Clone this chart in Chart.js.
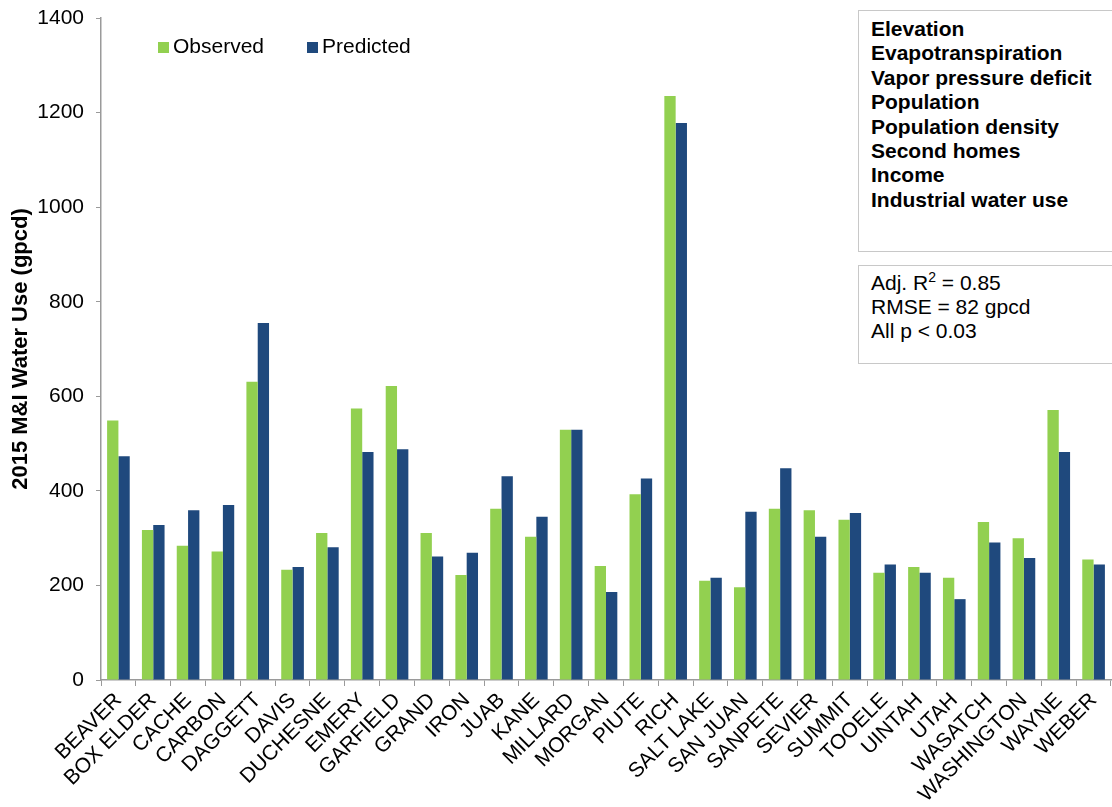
<!DOCTYPE html>
<html>
<head>
<meta charset="utf-8">
<script src="https://cdn.jsdelivr.net/npm/chart.js@4"></script>
<style>
    body { margin: 0; background: #fff; }
    #wrap { position: relative; width: 1112px; height: 807px; font-family: "Liberation Sans", Arial, sans-serif; }
    #legend { position: absolute; left: 158px; top: 34px; display: flex; gap: 43px; font-size: 21px; color: #000; }
    #legend .item { display: flex; align-items: center; }
    #legend .box { width: 11px; height: 11px; margin-right: 4px; margin-top: 3px; }
    .note { position: absolute; left: 858px; width: 260px; border: 1.5px solid #c8c8c8; box-sizing: border-box;
            padding-left: 12px; font-size: 21px; line-height: 24.4px; color: #000; background: #fff; }
    #vars { top: 10px; height: 242px; padding-top: 6px; font-weight: bold; }
    #stats { top: 265px; height: 99px; padding-top: 5px; line-height: 24px; }
    #stats sup { font-size: 14px; line-height: 0; vertical-align: 8px; }
</style>
</head>
<body>
<div id="wrap">
    <canvas id="chart-water" width="1112" height="807"></canvas>
    <div id="legend"></div>
    <div class="note" id="vars"></div>
    <div class="note" id="stats">Adj. R<sup>2</sup> = 0.85<br>RMSE = 82 gpcd<br>All p &lt; 0.03</div>
</div>
<script>
const counties = ["BEAVER", "BOX ELDER", "CACHE", "CARBON", "DAGGETT", "DAVIS", "DUCHESNE", "EMERY",
    "GARFIELD", "GRAND", "IRON", "JUAB", "KANE", "MILLARD", "MORGAN", "PIUTE", "RICH", "SALT LAKE",
    "SAN JUAN", "SANPETE", "SEVIER", "SUMMIT", "TOOELE", "UINTAH", "UTAH", "WASATCH", "WASHINGTON",
    "WAYNE", "WEBER"];

const observed = [549, 317, 284, 272, 631, 233, 311, 574, 622, 311, 222, 362, 303, 529, 241, 393, 1235,
    210, 196, 362, 359, 339, 227, 239, 216, 334, 300, 571, 255];

const predicted = [473, 328, 359, 370, 755, 239, 281, 482, 488, 261, 269, 431, 345, 529, 186, 426, 1178,
    216, 356, 448, 303, 353, 244, 227, 171, 291, 258, 482, 244];

const variables = ["Elevation", "Evapotranspiration", "Vapor pressure deficit", "Population",
    "Population density", "Second homes", "Income", "Industrial water use"];

const series = [
    { label: "Observed", color: "#92D050", data: observed },
    { label: "Predicted", color: "#1F497D", data: predicted },
];

const font = "'Liberation Sans', Arial, sans-serif";
const axisGrey = "#9a9a9a";

function renderChart() {
    const chart = new Chart('chart-water', {
        type: 'bar',
        data: {
            labels: counties,
            datasets: series.map(s => ({
                label: s.label,
                data: s.data,
                backgroundColor: s.color,
                categoryPercentage: 0.65,
                barPercentage: 1.0
            }))
        },
        options: {
            responsive: false,
            animation: false,
            layout: { padding: { top: 18, right: 1, left: 4, bottom: 0 } },
            plugins: {
                legend: { display: false },
                tooltip: { enabled: false }
            },
            scales: {
                x: {
                    grid: { drawOnChartArea: false, color: axisGrey, tickLength: 6, offset: true },
                    border: { color: axisGrey, width: 1.5 },
                    ticks: {
                        autoSkip: false, maxRotation: 45, minRotation: 45, padding: 2,
                        color: "#000", font: { family: font, size: 21 }
                    },
                    afterFit: scale => { scale.height = 127; scale.paddingLeft = 0; scale.paddingRight = 0; }
                },
                y: {
                    min: 0, max: 1400,
                    grid: { drawOnChartArea: false, color: axisGrey, tickLength: 5 },
                    border: { color: axisGrey, width: 1.5 },
                    ticks: {
                        stepSize: 200, padding: 12, color: "#000", font: { family: font, size: 21 },
                        callback: v => String(v)
                    },
                    title: {
                        display: true, text: "2015 M&I Water Use (gpcd)", color: "#000",
                        font: { family: font, size: 22, weight: 'bold' }, padding: { top: 4, bottom: 4 }
                    },
                    afterFit: scale => { scale.width = 97; scale.paddingTop = 0; scale.paddingBottom = 0; }
                }
            }
        }
    });

    // legend built from the datasets
    const legend = document.getElementById('legend');
    chart.data.datasets.forEach(ds => {
        const item = document.createElement('div');
        item.className = 'item';
        item.innerHTML = `<span class="box" style="background:${ds.backgroundColor}"></span>${ds.label}`;
        legend.appendChild(item);
    });

    document.getElementById('vars').innerHTML = variables.join('<br>');
    console.log('rendered chart');
}

renderChart();
</script>
</body>
</html>
